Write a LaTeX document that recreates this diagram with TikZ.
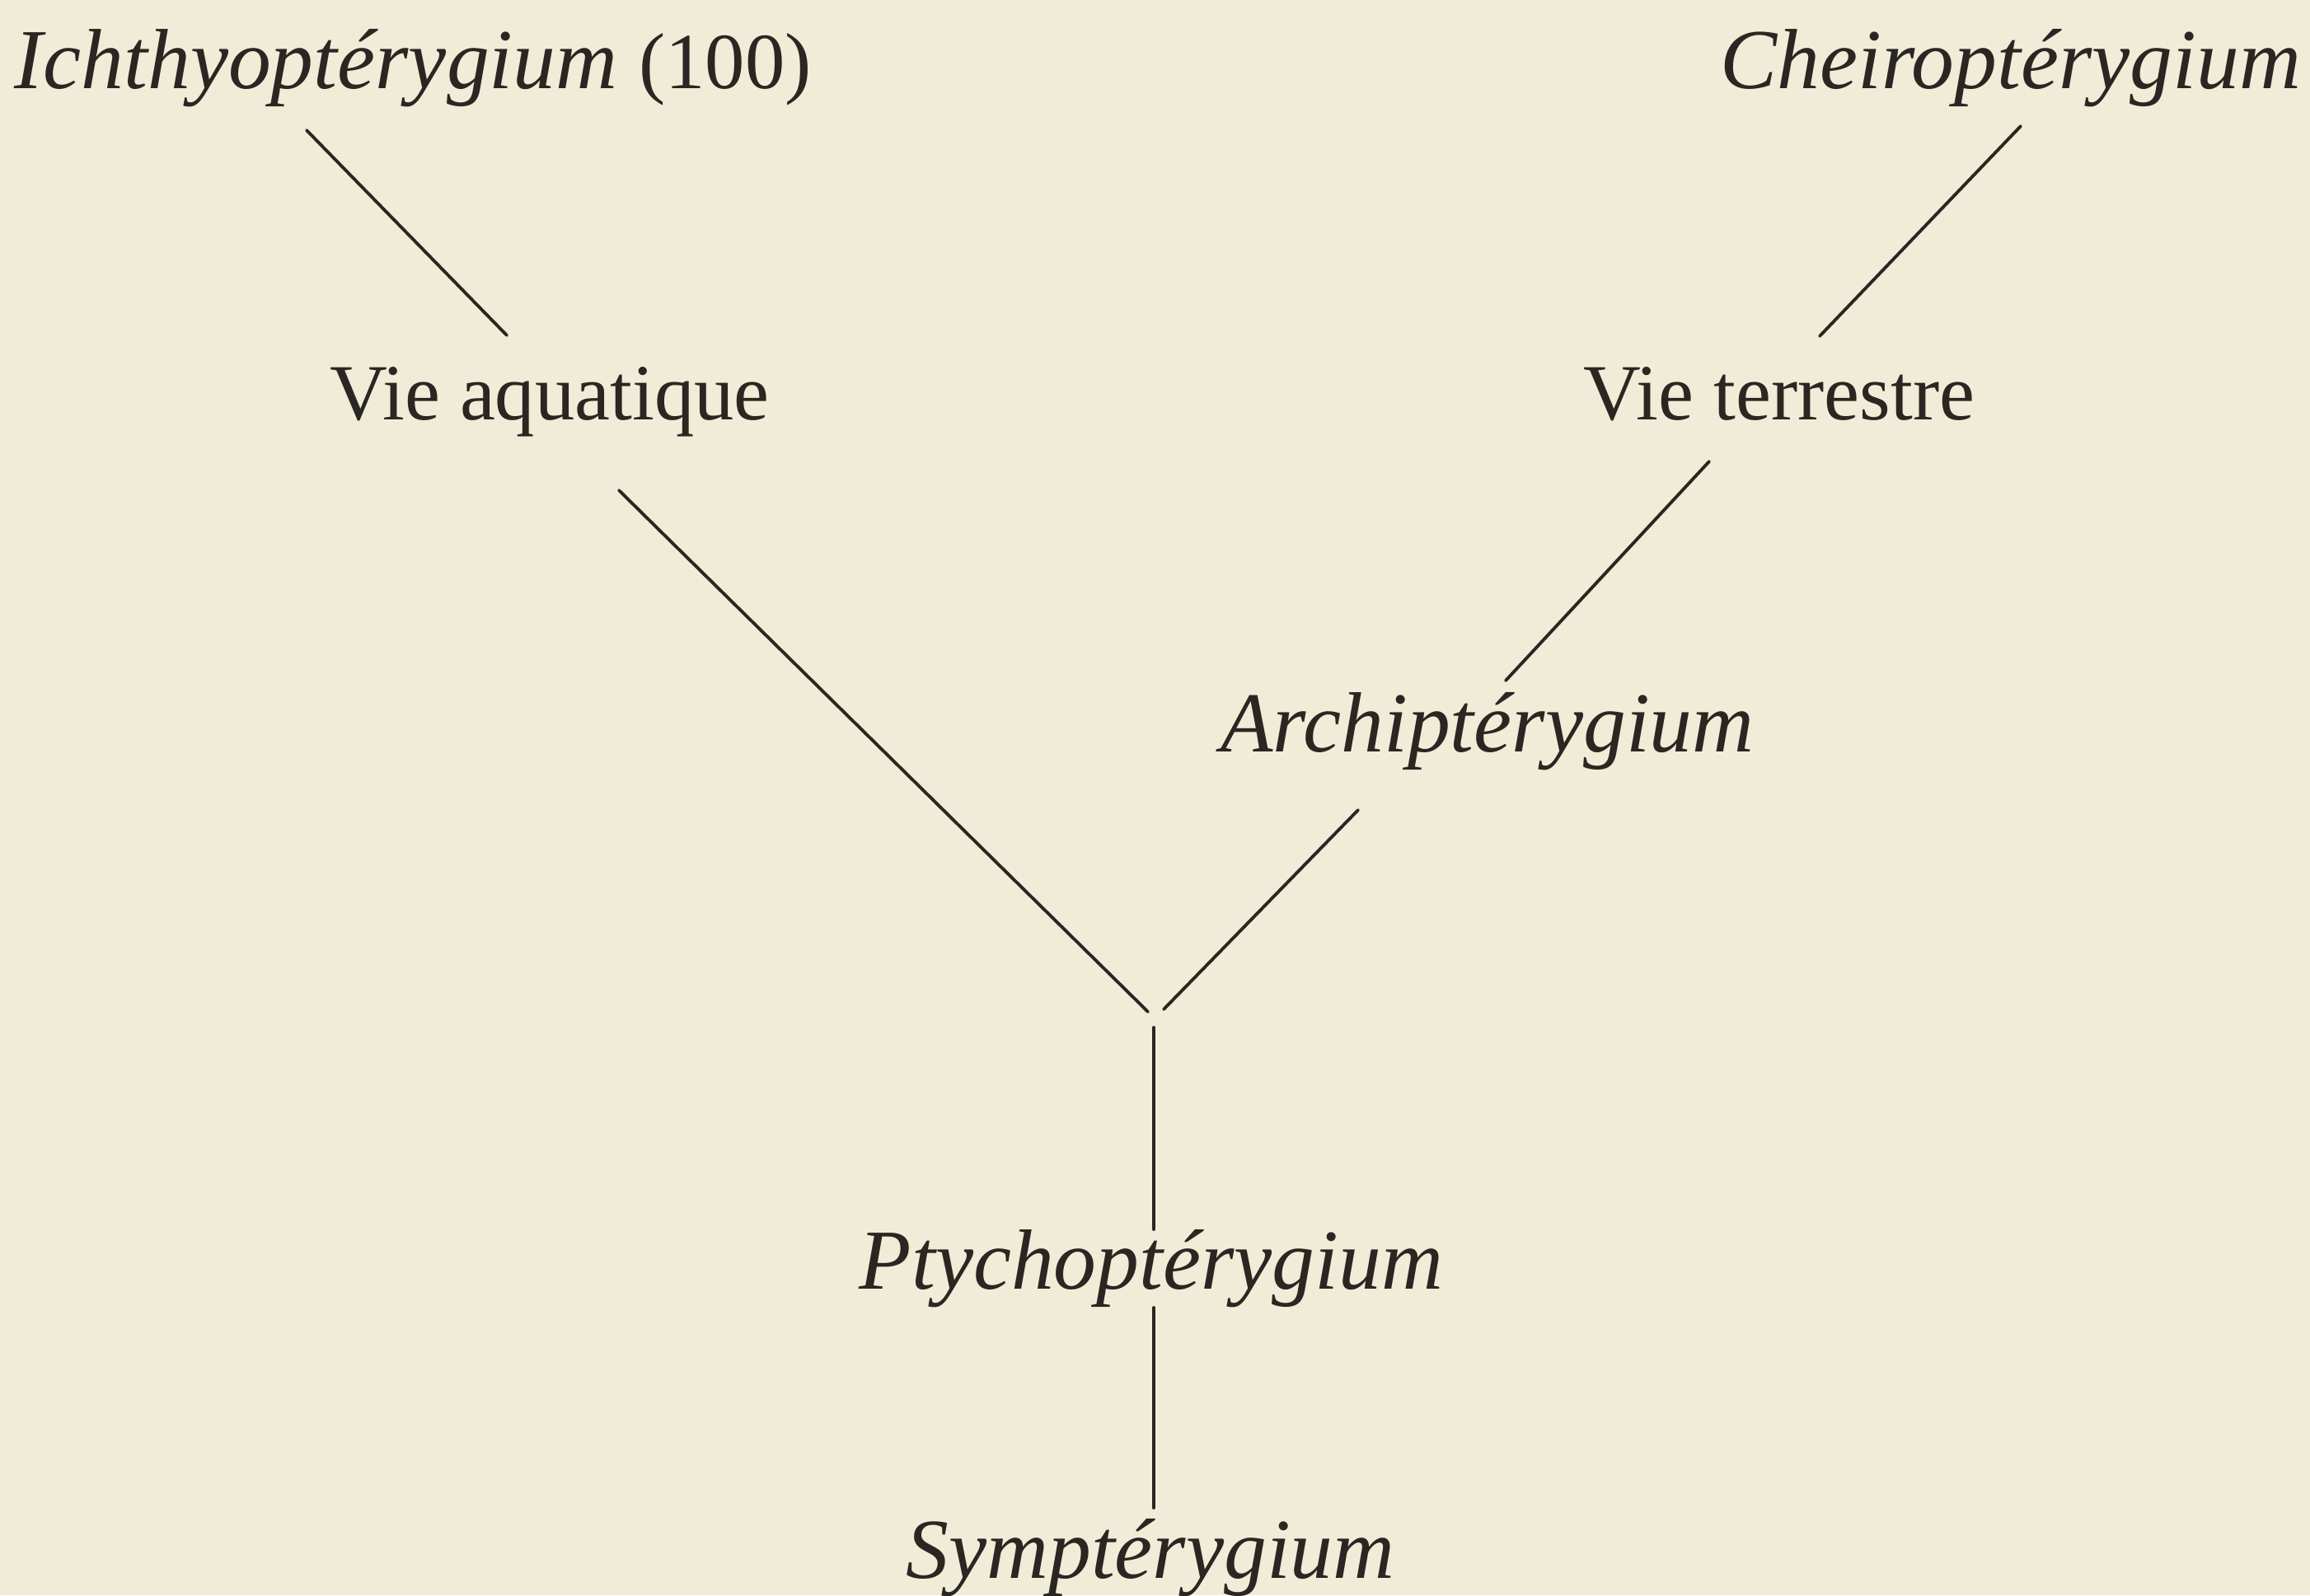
\documentclass[tikz,border=0pt]{standalone}
\usepackage{fontspec}
\setmainfont{Liberation Serif}
\definecolor{paper}{HTML}{F0ECD8}
\definecolor{ink}{HTML}{2A2622}
\begin{document}
\begin{tikzpicture}[x=1cm,y=1cm,
  lbl/.style={inner sep=0pt, outer sep=0pt, text=ink, font=\fontsize{27.5}{30}\selectfont},
  ital/.style={lbl, font=\fontsize{29.5}{32}\selectfont\itshape},
  link/.style={draw=ink, line width=1.1pt, line cap=round}]
\fill[paper] (0,0) rectangle (28.03,-19.36);
\useasboundingbox (0,0) rectangle (28.03,-19.36);
% labels
\node[ital, anchor=base west] (ichthy) at (0.18,-1.07) {Ichthyoptérygium {\upshape\fontsize{27.5}{30}\selectfont (100)}};
\node[ital, anchor=base east] (cheiro) at (27.92,-1.07) {Cheiroptérygium};
\node[lbl, anchor=base] (aqua) at (6.67,-5.09) {Vie aquatique};
\node[lbl, anchor=base] (terr) at (21.59,-5.09) {Vie terrestre};
\node[ital, anchor=base] (archi) at (18.05,-9.12) {Archiptérygium};
\node[ital, anchor=base] (ptycho) at (13.97,-15.64) {Ptychoptérygium};
\node[ital, anchor=base] (sympt) at (13.96,-19.15) {Symptérygium};
% connector ends
\coordinate (i1) at (3.72,-1.58);
\coordinate (i2) at (6.15,-4.07);
\coordinate (c1) at (24.52,-1.53);
\coordinate (c2) at (22.08,-4.08);
\coordinate (t1) at (20.74,-5.60);
\coordinate (t2) at (18.27,-8.26);
\coordinate (a1) at (7.51,-5.95);
\coordinate (a2) at (13.93,-12.28);
\coordinate (r1) at (16.48,-9.83);
\coordinate (r2) at (14.12,-12.25);
\coordinate (v1) at (14.00,-12.47);
\coordinate (v2) at (14.00,-14.92);
\coordinate (v3) at (14.00,-15.87);
\coordinate (v4) at (14.00,-18.30);
% connectors
\draw[link] (i1) -- (i2);
\draw[link] (c1) -- (c2);
\draw[link] (t1) -- (t2);
\draw[link] (a1) -- (a2);
\draw[link] (r1) -- (r2);
\draw[link] (v1) -- (v2);
\draw[link] (v3) -- (v4);
\end{tikzpicture}
\end{document}
